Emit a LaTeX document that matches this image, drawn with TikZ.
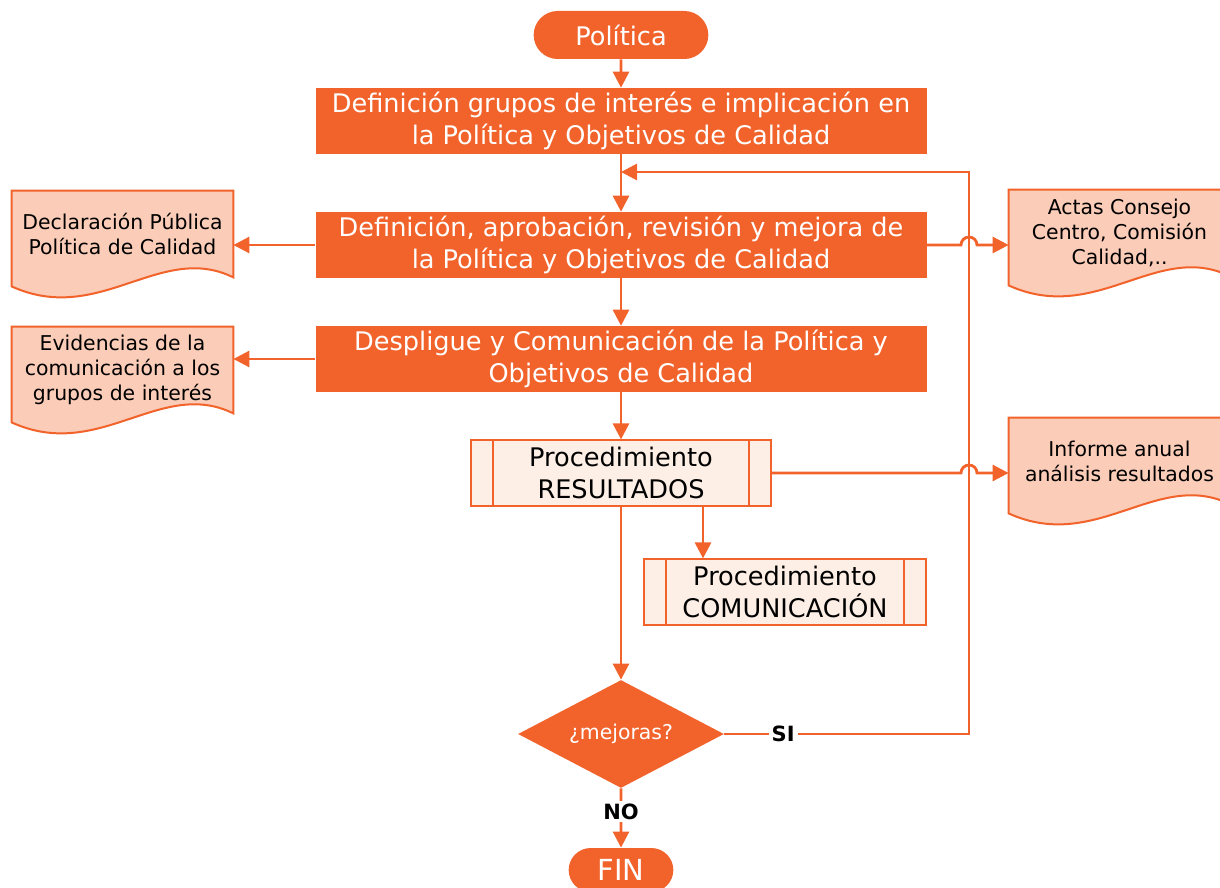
\documentclass[tikz,border=0pt]{standalone}
\usepackage{fontspec}
\setmainfont{DejaVu Sans}
\usetikzlibrary{arrows.meta}
\usetikzlibrary{positioning}
\usetikzlibrary{shapes.geometric}
\usetikzlibrary{shapes.misc}
\usetikzlibrary{backgrounds}
\usetikzlibrary{calc}
\definecolor{naranja}{RGB}{242,99,44}
\definecolor{salmon}{RGB}{251,204,183}
\definecolor{crema}{RGB}{253,238,230}
\tikzset{>={Triangle[length=8pt,width=8pt]}}
\tikzset{
    flow/.style = {->, naranja, line width=1.4pt},
    answer/.style = {font=\bfseries\fontsize{10.5}{12}\selectfont, text=black, fill=white, inner sep=1.5pt},
}
\newcommand\mainsize{\fontsize{12.8}{16}\selectfont}
\newcommand\docsize{\fontsize{10.2}{12.5}\selectfont}
\tikzset{
    term/.style={rounded rectangle, fill=naranja, text=white, minimum width=94pt, minimum height=24pt, font=\mainsize},
    mainbox/.style={fill=naranja, text=white, minimum width=305.5pt, minimum height=32.5pt, align=center, font=\mainsize, inner sep=2pt},
    procbox/.style={draw=naranja, fill=crema, line width=1pt, align=center, font=\mainsize, minimum height=31pt,
        path picture={
            \draw[naranja, line width=1pt]
                ([xshift=11pt]path picture bounding box.north west) -- ([xshift=11pt]path picture bounding box.south west)
                ([xshift=-11pt]path picture bounding box.north east) -- ([xshift=-11pt]path picture bounding box.south east);
        }
    },
    decision/.style={diamond, fill=naranja, text=white, minimum width=103pt, minimum height=54pt, aspect=1.9, inner sep=0pt, font=\docsize},
    docnode/.style={minimum width=110.5pt, minimum height=43pt, align=center, font=\docsize, inner sep=1pt},
    docline/.style={draw=naranja, fill=salmon, line width=1pt},
}
\newcommand\docshape[1]{%
    \begin{scope}[on background layer]
        \draw[docline] (#1.north west) -- (#1.north east) -- (#1.south east)
            .. controls +(-36.5pt,18pt) and +(44pt,-20pt) .. ([yshift=-4.5pt]#1.south west) -- cycle;
    \end{scope}}

\begin{document}
\begin{tikzpicture}[x=0.5pt,y=-0.5pt,on grid]
    \useasboundingbox (0,0) rectangle (1220,888);
    % main column
    \node[term] (pol) at (621,35) {Política};
    \node[mainbox, below=43pt of pol] (grupos) {Definición grupos de interés e implicación en\\la Política y Objetivos de Calidad};
    \node[mainbox, below=62pt of grupos] (defi) {Definición, aprobación, revisión y mejora de\\la Política y Objetivos de Calidad};
    \node[mainbox, below=57pt of defi] (despl) {Despligue y Comunicación de la Política y\\Objetivos de Calidad};
    \node[procbox, minimum width=150pt, below=57pt of despl] (res) {Procedimiento\\RESULTADOS};
    \node[procbox, minimum width=141pt, below right=59.5pt and 82pt of res] (com) {Procedimiento\\COMUNICACIÓN};
    \node[decision, below=130.5pt of res] (mej) {¿mejoras?};
    \node[term, minimum width=59pt, minimum height=22pt, font=\fontsize{14.5}{16}\selectfont, below=68pt of mej] (fin) {FIN};
    % documents
    \node[docnode] (declara) at (122.5,234) {Declaración Pública\\Política de Calidad};
    \node[docnode] (evid) at (122.5,370) {Evidencias de la\\comunicación a los\\grupos de interés};
    \node[docnode] (actas) at (1119.5,233) {Actas Consejo\\Centro, Comisión\\Calidad,..};
    \node[docnode] (informe) at (1119.5,461) {Informe anual\\análisis resultados};
    \docshape{declara}
    \docshape{evid}
    \docshape{actas}
    \docshape{informe}
    % connectors
    \draw[flow] (pol) -- (grupos);
    \draw[flow] (grupos) -- (defi);
    \draw[flow] (defi) -- (despl);
    \draw[flow] (despl) -- (res);
    \draw[flow] (res) -- (mej);
    \draw[flow] ([xshift=41pt]res.south) -- ([xshift=41pt]res.south |- com.north);
    \draw[flow] (mej) -- node[answer, pos=.39] {NO} (fin);
    \draw[flow] (defi.west) -- (defi.west -| declara.east);
    \draw[flow] (despl.west) -- (despl.west -| evid.east);
    \coordinate (retorno) at (969,172);
    \draw[flow] (mej.east) -- node[answer, pos=.24] {SI} (mej.east -| retorno) -- (retorno) -- (retorno -| grupos.south);
    \draw[flow] (defi.east) -- ([xshift=-4pt]defi.east -| retorno) arc[start angle=180, end angle=0, radius=4pt] -- (defi.east -| actas.west);
    \draw[flow] (res.east) -- ([xshift=-4pt]res.east -| retorno) arc[start angle=180, end angle=0, radius=4pt] -- (res.east -| informe.west);
\end{tikzpicture}
\end{document}
